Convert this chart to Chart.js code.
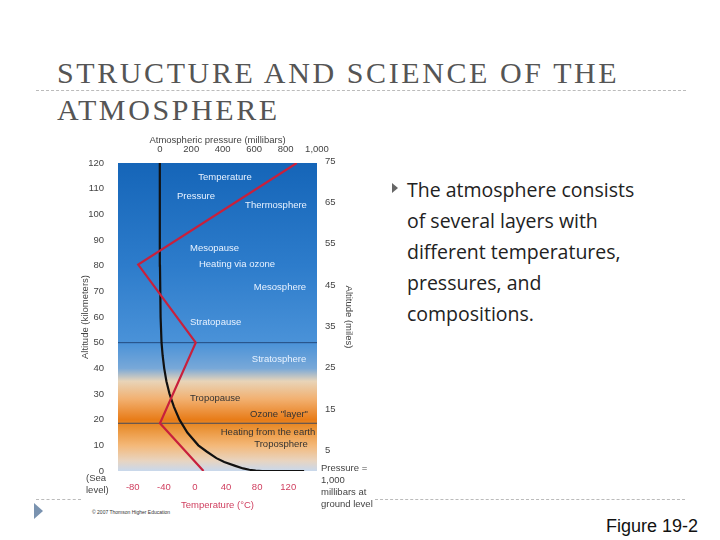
<!DOCTYPE html>
<html><head><meta charset="utf-8">
<script src="https://cdn.jsdelivr.net/npm/chart.js@4"></script>
<style>
body{margin:0;width:720px;height:540px;background:#fff;position:relative;overflow:hidden;font-family:"Liberation Sans",Arial,sans-serif}
.t{position:absolute;left:57px;font-family:"Liberation Serif",serif;font-size:30px;letter-spacing:2.6px;color:#555;line-height:1}
.dash{position:absolute;border-top:1px dashed #bbb;height:0}
#wrap{position:absolute;left:80px;top:135px;width:300px;height:380px}
.bul{position:absolute;left:407px;top:174px;width:245px;font-family:"Open Sans",sans-serif;font-size:19.5px;line-height:31px;color:#222}
</style></head><body>
<div class="t" style="top:58px">STRUCTURE AND SCIENCE OF THE</div>
<div class="t" style="top:95px">ATMOSPHERE</div>
<div class="dash" style="left:36px;top:90px;width:650px"></div>
<div class="dash" style="left:36px;top:499px;width:45px"></div>
<div class="dash" style="left:375px;top:499px;width:310px"></div>
<div style="position:absolute;left:34px;top:503px;width:0;height:0;border-top:8px solid transparent;border-bottom:8px solid transparent;border-left:9px solid #7a93b0"></div>
<div style="position:absolute;left:392px;top:183px;width:0;height:0;border-top:5px solid transparent;border-bottom:5px solid transparent;border-left:6px solid #666"></div>
<div class="bul">The atmosphere consists of several layers with different temperatures, pressures, and compositions.</div>
<div style="position:absolute;left:606px;top:516px;font-size:18px;color:#111">Figure 19-2</div>
<div style="position:absolute;left:92px;top:509px;font-size:5px;color:#333">© 2007 Thomson Higher Education</div>
<div id="wrap"><canvas id="c"></canvas></div>
<script>
const tempAlt=[0,18.6,50,80.4,120];
const tempVal=[11,-45,1,-73,131];
const presAlt=[0,0,0.15,0.5,1,2,3.5,5,7.5,10,15,20,25,30,35,40,45,50,60,80,120];
const presVal=[918,650,610,570,530,480,410,360,300,245,175,125,90,62,42,28,18,11,5,1,0];
const kmTicks=[0,10,20,30,40,50,60,70,80,90,100,110,120];
const mileTicks=[5,15,25,35,45,55,65,75];
const tempTicks=[-80,-40,0,40,80,120];
const presTicks=[0,200,400,600,800,1000];
const labels=[["Temperature",225,177,"center"],["Pressure",177,196,"left"],["Thermosphere",276,205,"center"],["Mesopause",190,248,"left"],["Heating via ozone",237,264,"center"],["Mesosphere",280,287,"center"],["Stratopause",190,322,"left"],["Stratosphere",279,359,"center"],["Tropopause",190,398,"left"],["Ozone \"layer\"",279,414,"center"],["Heating from the earth",268,432,"center"],["Troposphere",281,444,"center"]];
const fit=(w,h)=>function(s){if(w!=null)s.width=w;if(h!=null)s.height=h;};
const F={size:9.5,family:'"Liberation Sans",Arial'};
const bg={id:'bg',beforeDatasetsDraw(ch){const {ctx,chartArea:a,scales}=ch;const y=scales.y;
 const g=ctx.createLinearGradient(0,a.top,0,a.bottom);
 const st=[[120,'#1565b8'],[80,'#2d7ccb'],[50,'#4a92d8'],[40,'#78a8d8'],[35,'#e8d4b8'],[28,'#f2b070'],[20,'#e87c18'],[18,'#e88a28'],[10,'#f4b878'],[4,'#e8d4c0'],[0,'#c8d8ec']];
 st.forEach(([v,c])=>g.addColorStop((y.getPixelForValue(v)-a.top)/(a.bottom-a.top),c));
 ctx.save();ctx.fillStyle=g;ctx.fillRect(a.left,a.top,a.right-a.left,a.bottom-a.top);
 ctx.strokeStyle='#1a3a6a';ctx.lineWidth=0.8;[50,18.6].forEach(v=>{const p=y.getPixelForValue(v);ctx.beginPath();ctx.moveTo(a.left,p);ctx.lineTo(a.right,p);ctx.stroke();});
 ctx.restore();},
 afterDraw(ch){const ctx=ch.ctx;ctx.save();ctx.font='9.5px "Liberation Sans",Arial';ctx.textBaseline='middle';
 labels.forEach(([t,x,y,al])=>{ctx.fillStyle=(y>390&&y<450)?'#333':'#e8f2ff';ctx.textAlign=al;ctx.fillText(t,x-80,y-135);});
 ctx.fillStyle='#444';ctx.textAlign='left';
 ctx.fillText('(Sea',6,343);ctx.fillText('level)',6,355);
 ['Pressure =','1,000','millibars at','ground level'].forEach((t,i)=>ctx.fillText(t,241,333+i*12));
 ctx.restore();}};
new Chart(document.getElementById('c'),{type:'line',
 data:{datasets:[
  {data:tempAlt.map((a,i)=>({x:tempVal[i],y:a})),xAxisID:'xt',yAxisID:'y',borderColor:'#c8203c',borderWidth:2.2,pointRadius:0,tension:0},
  {data:presAlt.map((a,i)=>({x:presVal[i],y:a})),xAxisID:'xp',yAxisID:'y',borderColor:'#111',borderWidth:2.2,pointRadius:0,tension:0}]},
 options:{responsive:true,maintainAspectRatio:false,animation:false,plugins:{legend:{display:false},tooltip:{enabled:false}},
  layout:{padding:0},
  scales:{
   xt:{type:'linear',position:'bottom',min:-99,max:157,afterBuildTicks:s=>{s.ticks=tempTicks.map(v=>({value:v}))},afterFit:fit(null,44),
     grid:{display:false},border:{display:false},ticks:{color:'#d04060',font:F,padding:3},title:{display:true,text:'Temperature (°C)',color:'#d04060',font:F,padding:{top:2}}},
   xp:{type:'linear',position:'top',min:-266,max:1000,afterBuildTicks:s=>{s.ticks=presTicks.map(v=>({value:v}))},afterFit:fit(null,28),
     grid:{display:false},border:{display:false},ticks:{color:'#444',font:F,padding:0,callback:v=>v===1000?'1,000':v},title:{display:true,text:'Atmospheric pressure (millibars)',color:'#444',font:F,padding:0}},
   y:{type:'linear',position:'left',min:0,max:120,afterBuildTicks:s=>{s.ticks=kmTicks.map(v=>({value:v}))},afterFit:fit(38,null),
     grid:{display:false},border:{display:false},ticks:{color:'#444',font:F,padding:6},title:{display:true,text:'Altitude (kilometers)',color:'#444',font:F,padding:0}},
   ym:{type:'linear',position:'right',min:0,max:120/1.609,afterBuildTicks:s=>{s.ticks=mileTicks.map(v=>({value:v}))},afterFit:fit(63,null),
     grid:{display:false},border:{display:false},ticks:{color:'#444',font:F,padding:0},title:{display:true,text:'Altitude (miles)',color:'#444',font:F,padding:{top:26,bottom:0}}}
  }},plugins:[bg]});
</script></body></html>
